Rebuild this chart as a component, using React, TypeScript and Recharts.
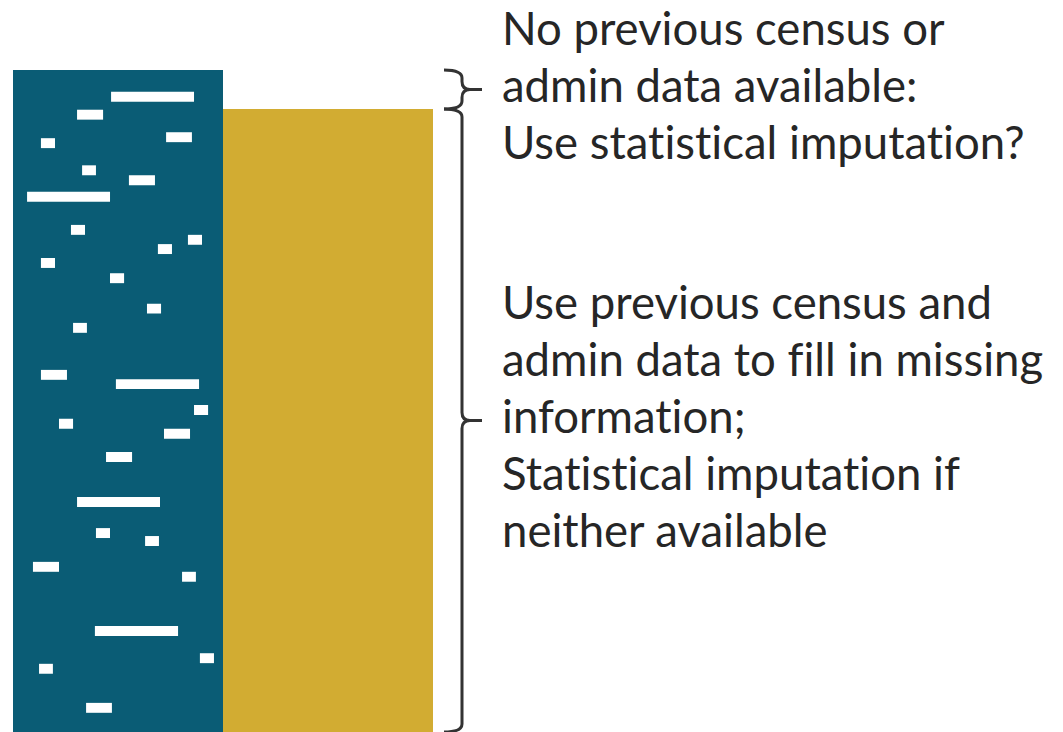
import React from 'react'
import { Bar, Cell, ComposedChart, ReferenceArea, XAxis, YAxis } from 'recharts'

// two columns: full enumeration frame vs. records that need filling
const columns = ['Census frame', 'Filled records']
const columnCentres = [50, 150]
const columnValues = [100, 94.1]
const columnColors = ['#0a5c75', '#d2ac32']

// missing cells inside the first column: [left, right, top] in column units (0-100 per column)
const gapHeight = 1.5
const gaps: [number, number, number][] = [
  [46.7, 86.2, 96.7],
  [30.5, 42.9, 94.0],
  [13.3, 20.0, 89.7],
  [72.9, 85.2, 90.6],
  [32.9, 39.5, 85.6],
  [55.2, 67.6, 84.1],
  [6.7, 46.2, 81.6],
  [27.6, 34.3, 76.6],
  [83.3, 90.0, 75.1],
  [69.0, 75.7, 73.7],
  [13.3, 20.0, 71.6],
  [46.2, 52.9, 69.3],
  [63.8, 70.5, 64.7],
  [28.6, 35.2, 61.8],
  [13.3, 25.7, 54.7],
  [49.0, 88.6, 53.3],
  [86.2, 92.9, 49.4],
  [21.9, 28.6, 47.3],
  [71.9, 84.3, 45.8],
  [44.3, 56.7, 42.3],
  [30.5, 70.0, 35.5],
  [39.5, 46.2, 30.8],
  [62.9, 69.5, 29.6],
  [9.5, 21.9, 25.7],
  [80.5, 87.1, 24.2],
  [39.0, 78.6, 16.0],
  [89.0, 95.7, 11.9],
  [12.4, 19.0, 10.3],
  [34.8, 47.1, 4.4],
]

const upperRange = [94.1, 100]
const upperNote = ['No previous census or', 'admin data available:', 'Use statistical imputation?']
const lowerRange = [0, 94.1]
const lowerNote = [
  'Use previous census and',
  'admin data to fill in missing',
  'information;',
  'Statistical imputation if',
  'neither available',
]

const data = columns.map((name, i) => ({ name, x: columnCentres[i], value: columnValues[i] }))

function Brace(props: any) {
  const { x, y, width, height, lines } = props
  const x0 = x + width + 11
  const xv = x0 + 18
  const xt = x0 + 38
  const y0 = y
  const y1 = y + height
  const ym = (y0 + y1) / 2
  const r = Math.min(8, (ym - y0) / 2)
  const d = [
    `M${x0},${y0}`,
    `Q${xv},${y0} ${xv},${y0 + r}`,
    `L${xv},${ym - r}`,
    `Q${xv},${ym} ${xv + r},${ym}`,
    `L${xt},${ym}`,
    `M${xv + r},${ym}`,
    `Q${xv},${ym} ${xv},${ym + r}`,
    `L${xv},${y1 - r}`,
    `Q${xv},${y1} ${x0},${y1}`,
  ].join(' ')
  const lineH = 57
  const first = ym - ((lines.length - 1) / 2) * lineH + 12
  return (
    <g>
      <path d={d} fill="none" stroke="#333" strokeWidth={3} />
      <text
        fill="#262626"
        fontSize={45.5}
        fontFamily="Lato, sans-serif"
        style={{ fontVariantLigatures: 'none' }}
      >
        {lines.map((l: string, i: number) => (
          <tspan key={i} x={xt + 20} y={first + i * lineH}>
            {l}
          </tspan>
        ))}
      </text>
    </g>
  )
}

export default function App() {
  return (
    <div style={{ position: 'absolute', left: 0, top: 0 }}>
      <ComposedChart
        width={1063}
        height={732}
        data={data}
        barCategoryGap={0}
        margin={{ top: 70, right: 630, left: 13, bottom: 0 }}
      >
        <XAxis dataKey="x" type="number" domain={[0, 200]} allowDataOverflow hide />
        <YAxis type="number" domain={[0, 100]} allowDataOverflow hide />
        <Bar dataKey="value" isAnimationActive={false}>
          {data.map((d, i) => (
            <Cell key={d.name} fill={columnColors[i]} />
          ))}
        </Bar>
        {gaps.map(([a, b, top], i) => (
          <ReferenceArea
            key={i}
            x1={a}
            x2={b}
            y1={top - gapHeight}
            y2={top}
            fill="#ffffff"
            fillOpacity={1}
            stroke="none"
            {...({ zIndex: 800 } as any)}
          />
        ))}
        <ReferenceArea
          x1={0}
          x2={200}
          y1={upperRange[0]}
          y2={upperRange[1]}
          fillOpacity={0}
          shape={(p: any) => <Brace {...p} lines={upperNote} />}
        />
        <ReferenceArea
          x1={0}
          x2={200}
          y1={lowerRange[0]}
          y2={lowerRange[1]}
          fillOpacity={0}
          shape={(p: any) => <Brace {...p} lines={lowerNote} />}
        />
      </ComposedChart>
    </div>
  )
}
